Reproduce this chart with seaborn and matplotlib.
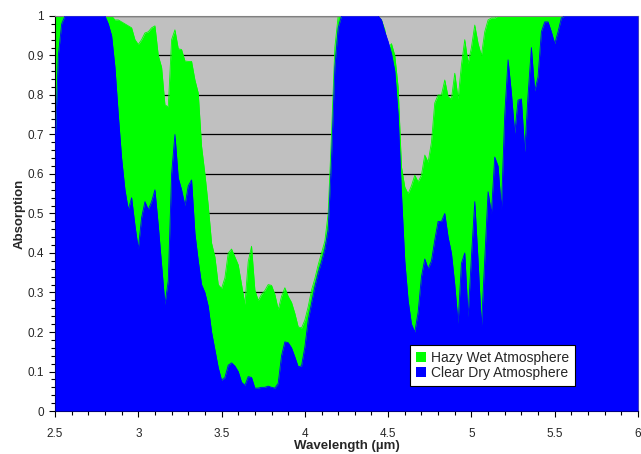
import numpy as np
import pandas as pd
import matplotlib
matplotlib.use("Agg")
import matplotlib.pyplot as plt
import seaborn as sns
from matplotlib.patches import Patch
from matplotlib.ticker import MultipleLocator

# wavelength grid (um), 0.02 step
wavelength = np.round(np.arange(2.50, 6.001, 0.02), 2)

clear_dry = [
    0.66, 0.90, 0.98, 1.0, 1.0, 1.0, 1.0, 1.0, 1.0, 1.0, 1.0, 1.0, 1.0, 1.0, 1.0, 1.0,   # 2.50-2.80
    0.98, 0.95, 0.87, 0.75, 0.64, 0.56, 0.51, 0.54, 0.47, 0.41,                          # 2.82-3.00
    0.49, 0.53, 0.51, 0.53, 0.56, 0.47, 0.37, 0.27, 0.33, 0.60,                          # 3.02-3.20
    0.70, 0.59, 0.56, 0.52, 0.57, 0.585, 0.45, 0.38, 0.32, 0.30,                         # 3.22-3.40
    0.265, 0.20, 0.155, 0.11, 0.078, 0.085, 0.116, 0.122, 0.114, 0.10,                   # 3.42-3.60
    0.073, 0.065, 0.087, 0.085, 0.058, 0.058, 0.06, 0.06, 0.063, 0.06,                   # 3.62-3.80
    0.058, 0.07, 0.14, 0.175, 0.173, 0.16, 0.137, 0.112, 0.114, 0.162,                   # 3.82-4.00
    0.23, 0.273, 0.315, 0.35, 0.378, 0.41, 0.46, 0.64, 0.87, 0.97,                       # 4.02-4.20
    1.0, 1.0, 1.0, 1.0, 1.0, 1.0, 1.0, 1.0, 1.0, 1.0,                                    # 4.22-4.40
    1.0, 1.0, 0.99, 0.96, 0.935, 0.905, 0.86, 0.75, 0.55, 0.38,                          # 4.42-4.60
    0.28, 0.22, 0.20, 0.25, 0.34, 0.385, 0.36, 0.38, 0.433, 0.48,                        # 4.62-4.80
    0.48, 0.50, 0.44, 0.40, 0.32, 0.222, 0.374, 0.40, 0.238, 0.39,                       # 4.82-5.00
    0.53, 0.38, 0.213, 0.382, 0.555, 0.50, 0.643, 0.62, 0.51, 0.75,                      # 5.02-5.20
    0.889, 0.805, 0.703, 0.787, 0.79, 0.656, 0.80, 0.92, 0.81, 0.846,                    # 5.22-5.40
    0.96, 0.985, 0.985, 0.96, 0.93, 0.96, 0.995, 1.0, 1.0, 1.0,                          # 5.42-5.60
    1.0, 1.0, 1.0, 1.0, 1.0, 1.0, 1.0, 1.0, 1.0, 1.0,                                    # 5.62-5.80
    1.0, 1.0, 1.0, 1.0, 1.0, 1.0, 1.0, 1.0, 1.0, 1.0,                                    # 5.82-6.00
]

hazy_wet = [
    1.0, 1.0, 1.0, 1.0, 1.0, 1.0, 1.0, 1.0, 1.0, 1.0, 1.0, 1.0, 1.0, 1.0, 1.0, 1.0,      # 2.50-2.80
    1.0, 1.0, 0.99, 0.99, 0.985, 0.98, 0.975, 0.97, 0.94, 0.928,                         # 2.82-3.00
    0.94, 0.957, 0.96, 0.97, 0.975, 0.90, 0.87, 0.775, 0.77, 0.94,                       # 3.02-3.20
    0.965, 0.917, 0.915, 0.886, 0.885, 0.885, 0.838, 0.805, 0.67, 0.60,                  # 3.22-3.40
    0.52, 0.425, 0.39, 0.32, 0.31, 0.337, 0.40, 0.41, 0.39, 0.37,                        # 3.42-3.60
    0.32, 0.27, 0.378, 0.417, 0.306, 0.28, 0.295, 0.305, 0.32, 0.318,                    # 3.62-3.80
    0.295, 0.257, 0.29, 0.312, 0.29, 0.275, 0.247, 0.213, 0.21, 0.23,                    # 3.82-4.00
    0.264, 0.306, 0.335, 0.37, 0.40, 0.43, 0.50, 0.70, 0.92, 1.0,                        # 4.02-4.20
    1.0, 1.0, 1.0, 1.0, 1.0, 1.0, 1.0, 1.0, 1.0, 1.0,                                    # 4.22-4.40
    1.0, 1.0, 0.99, 0.965, 0.918, 0.93, 0.90, 0.82, 0.618, 0.567,                        # 4.42-4.60
    0.55, 0.57, 0.597, 0.58, 0.597, 0.648, 0.63, 0.68, 0.78, 0.80,                       # 4.62-4.80
    0.80, 0.838, 0.795, 0.79, 0.855, 0.79, 0.876, 0.94, 0.88, 0.92,                      # 4.82-5.00
    0.977, 0.93, 0.90, 0.96, 0.99, 0.995, 0.995, 1.0, 1.0, 1.0,                          # 5.02-5.20
    1.0, 1.0, 1.0, 1.0, 1.0, 1.0, 1.0, 1.0, 1.0, 1.0,                                    # 5.22-5.40
    1.0, 1.0, 1.0, 1.0, 1.0, 1.0, 1.0, 1.0, 1.0, 1.0,                                    # 5.42-5.60
    1.0, 1.0, 1.0, 1.0, 1.0, 1.0, 1.0, 1.0, 1.0, 1.0,                                    # 5.62-5.80
    1.0, 1.0, 1.0, 1.0, 1.0, 1.0, 1.0, 1.0, 1.0, 1.0,                                    # 5.82-6.00
]

x_ticks = [2.5, 3, 3.5, 4, 4.5, 5, 5.5, 6]
x_tick_labels = ["2.5", "3", "3.5", "4", "4.5", "5", "5.5", "6"]
y_ticks = np.round(np.arange(0, 1.01, 0.1), 1)
y_tick_labels = ["0", "0.1", "0.2", "0.3", "0.4", "0.5", "0.6", "0.7", "0.8", "0.9", "1"]

df = pd.DataFrame({"wavelength": wavelength, "hazy": hazy_wet, "clear": clear_dry})

sns.set_style("ticks")
plt.rcParams["font.family"] = ["Liberation Sans", "DejaVu Sans"]

green = "#00FF00"
blue = "#0000FF"

fig = plt.figure(figsize=(6.41, 4.54), dpi=100)
ax = fig.add_axes([0.0858, 0.0947, 0.9095, 0.8701])
ax.set_facecolor("#C0C0C0")

# gridlines under the fills
for yv in y_ticks[1:]:
    ax.axhline(yv, color="black", linewidth=0.9, zorder=1)

ax.fill_between(df["wavelength"], 0, df["hazy"], color=green, linewidth=0, zorder=2)
sns.lineplot(data=df, x="wavelength", y="hazy", color=green, linewidth=0.6, ax=ax, zorder=2)
ax.fill_between(df["wavelength"], 0, df["clear"], color=blue, linewidth=0, zorder=3)
sns.lineplot(data=df, x="wavelength", y="clear", color=blue, linewidth=0.6, ax=ax, zorder=3)

ax.set_xlim(2.5, 6)
ax.set_ylim(0, 1)
ax.set_xticks(x_ticks)
ax.set_xticklabels(x_tick_labels, fontsize=8.5)
ax.set_yticks(y_ticks)
ax.set_yticklabels(y_tick_labels, fontsize=8.5)
ax.xaxis.set_minor_locator(MultipleLocator(0.1))
ax.yaxis.set_minor_locator(MultipleLocator(0.02))
ax.tick_params(axis="both", which="major", direction="out", length=4, width=0.8, color="black", pad=4)
ax.tick_params(axis="both", which="minor", direction="out", length=3, width=0.8, color="black")
ax.tick_params(axis="x", which="major", pad=8)

ax.set_xlabel("Wavelength (µm)", fontsize=9.5, fontweight="bold", labelpad=0)
ax.set_ylabel("Absorption", fontsize=9.5, fontweight="bold", labelpad=1)

for side in ["left", "bottom"]:
    ax.spines[side].set_color("black")
    ax.spines[side].set_linewidth(0.8)
for side in ["top", "right"]:
    ax.spines[side].set_color("#808080")
    ax.spines[side].set_linewidth(0.8)

handles = [Patch(facecolor=green, edgecolor="none", label="Hazy Wet Atmosphere"),
           Patch(facecolor=blue, edgecolor="none", label="Clear Dry Atmosphere")]
leg = ax.legend(handles=handles, loc="lower left", bbox_to_anchor=(0.609, 0.063),
                fontsize=10, frameon=True, fancybox=False, framealpha=1,
                edgecolor="black", handlelength=0.7, handleheight=0.7,
                handletextpad=0.35, borderpad=0.45, labelspacing=0.05, borderaxespad=0)
leg.get_frame().set_linewidth(0.8)
leg.set_zorder(10)

fig.savefig("out.png", dpi=100)
